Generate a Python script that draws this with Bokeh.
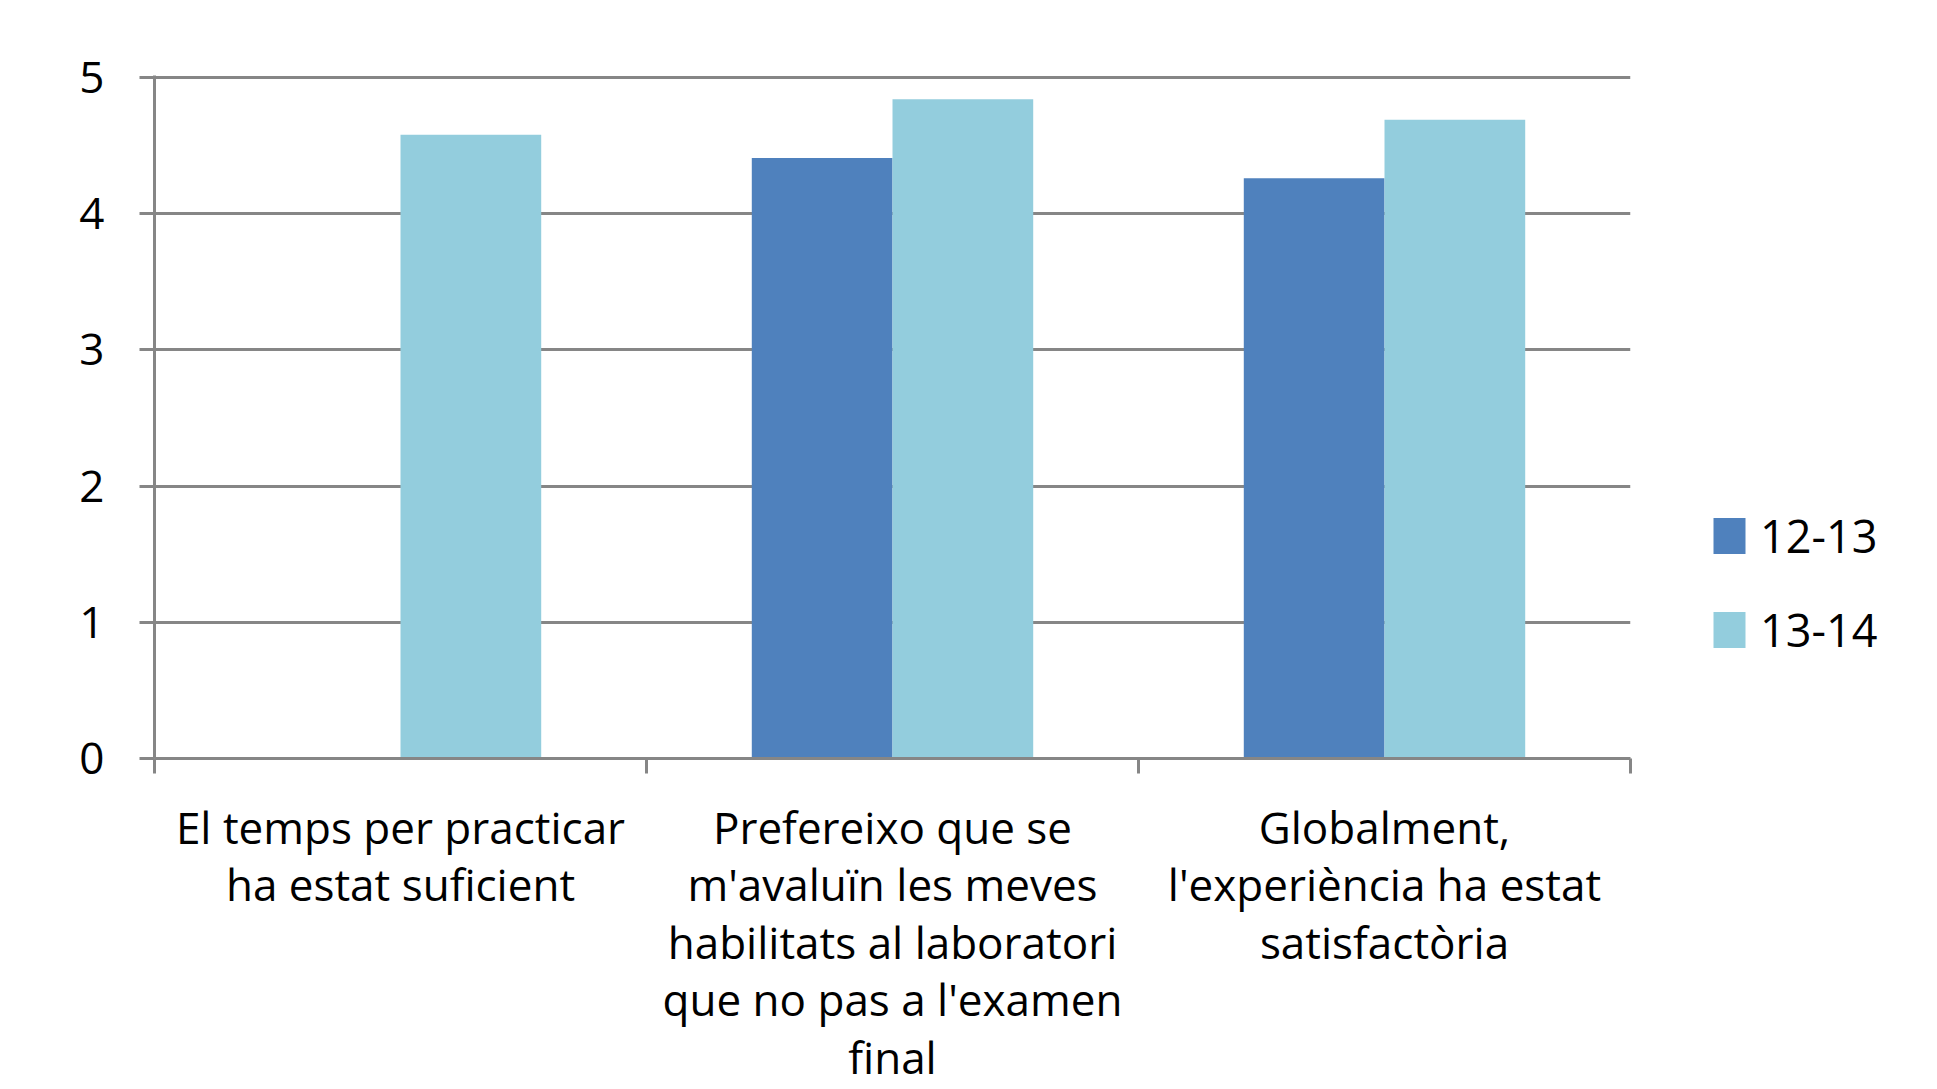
import numpy as np
from bokeh.plotting import figure
from bokeh.models import (Range1d, FixedTicker, LinearAxis, Legend, LegendItem,
                          ColumnDataSource)
from bokeh.transform import dodge
from bokeh.embed import file_html
from bokeh.resources import INLINE

# ---- data ----
categories = [
    "El temps per practicar ha estat suficient",
    "Prefereixo que se m'avaluïn les meves habilitats al laboratori que no pas a l'examen final",
    "Globalment, l'experiència ha estat satisfactòria",
]
category_labels = [
    "El temps per practicar\nha estat suficient",
    "Prefereixo que se\nm'avaluïn les meves\nhabilitats al laboratori\nque no pas a l'examen\nfinal",
    "Globalment,\nl'experiència ha estat\nsatisfactòria",
]
series_names = ["12-13", "13-14"]
values_1213 = [np.nan, 4.41, 4.26]
values_1314 = [4.58, 4.84, 4.69]
y_ticks = [0, 1, 2, 3, 4, 5]

COL_1213 = "#4F81BD"
COL_1314 = "#93CDDD"
GRID = "#868686"
FONT = "Open Sans"

n = len(categories)
centers = [i + 0.5 for i in range(n)]   # category slot centres on a 0..n axis

source = ColumnDataSource(data=dict(
    x=np.array(centers),
    cat=categories,
    v1213=np.array(values_1213, dtype=float),
    v1314=np.array(values_1314, dtype=float),
))

p = figure(
    x_range=Range1d(0, n),
    y_range=Range1d(0, 5.015),
    frame_width=1476, frame_height=683,
    min_border_left=154, min_border_right=299,
    min_border_top=75, min_border_bottom=10,
    toolbar_location=None, output_backend="svg",
    background_fill_color="white", border_fill_color="white",
)
p.outline_line_color = None
p.xgrid.grid_line_color = None
p.ygrid.grid_line_color = GRID
p.ygrid.grid_line_width = 3
p.ygrid.ticker = FixedTicker(ticks=y_ticks)

BW = 0.286
r1 = p.vbar(x=dodge("x", -BW / 2), top="v1213", bottom=0, width=BW,
            source=source, fill_color=COL_1213, line_color=None)
r2 = p.vbar(x=dodge("x", BW / 2), top="v1314", bottom=0, width=BW,
            source=source, fill_color=COL_1314, line_color=None)

# y axis
ya = p.yaxis[0]
ya.ticker = FixedTicker(ticks=y_ticks)
ya.axis_line_color = GRID
ya.axis_line_width = 3
ya.major_tick_line_color = GRID
ya.major_tick_line_width = 3
ya.major_tick_out = 15
ya.major_tick_in = 0
ya.minor_tick_line_color = None
ya.major_label_text_font = FONT
ya.major_label_text_font_size = "44px"
ya.major_label_text_color = "black"
ya.major_label_standoff = 35

# x axis: ticks at category boundaries (no labels)
xa = p.xaxis[0]
xa.ticker = FixedTicker(ticks=list(range(n + 1)))
xa.axis_line_color = GRID
xa.axis_line_width = 3
xa.major_tick_line_color = GRID
xa.major_tick_line_width = 3
xa.major_tick_out = 15
xa.major_tick_in = 0
xa.minor_tick_line_color = None
xa.major_label_text_font_size = "0px"
xa.major_label_text_color = None
xa.major_label_standoff = 0

# second x axis: category names under each slot centre
la = LinearAxis(ticker=FixedTicker(ticks=centers),
                major_label_overrides={c: lab for c, lab in zip(centers, category_labels)})
la.axis_line_color = None
la.major_tick_line_color = None
la.major_tick_out = 0
la.major_tick_in = 0
la.minor_tick_line_color = None
la.major_label_text_font = FONT
la.major_label_text_font_size = "44px"
la.major_label_text_color = "black"
la.major_label_text_line_height = 0.96
la.major_label_standoff = 23
p.add_layout(la, "below")

legend = Legend(
    items=[LegendItem(label=series_names[0], renderers=[r1]),
           LegendItem(label=series_names[1], renderers=[r2])],
    location=(79, 98),
    glyph_width=40, glyph_height=45, label_height=36,
    label_standoff=11, spacing=33, padding=0, margin=0,
    border_line_color=None, background_fill_alpha=0,
    label_text_font=FONT, label_text_font_size="45px", label_text_color="black",
)
p.add_layout(legend, "right")

open("out.html", "w").write(file_html(p, INLINE))
